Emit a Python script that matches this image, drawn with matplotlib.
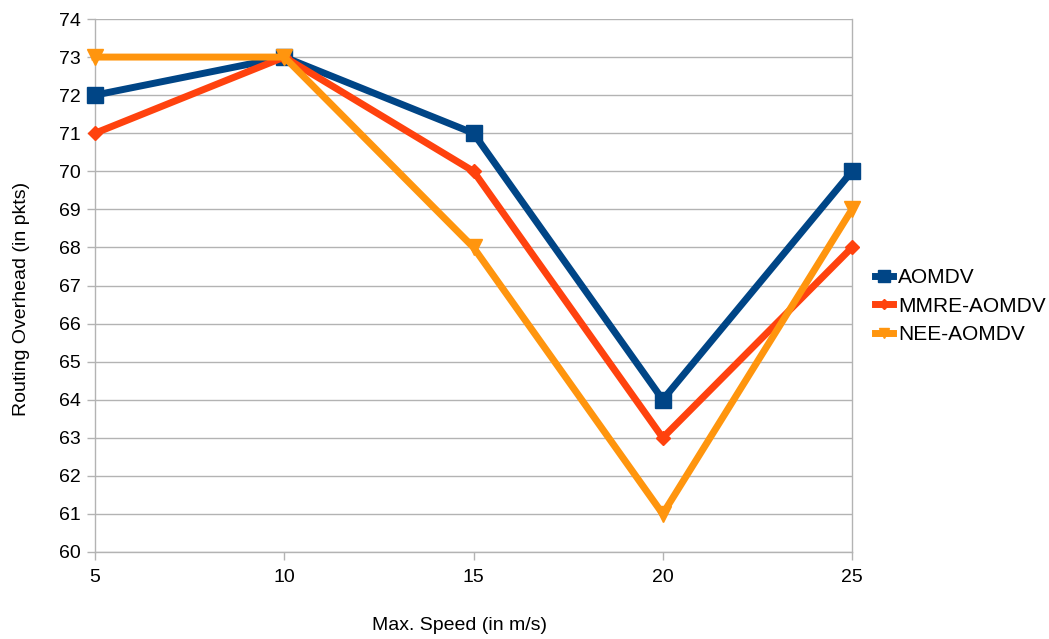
import matplotlib
matplotlib.use("Agg")
import matplotlib.pyplot as plt
from matplotlib.lines import Line2D

plt.rcParams['font.family'] = ['Liberation Sans', 'DejaVu Sans']

speeds = [5, 10, 15, 20, 25]
aomdv = [72, 73, 71, 64, 70]
mmre_aomdv = [71, 73, 70, 63, 68]
nee_aomdv = [73, 73, 68, 61, 69]
series_names = ["AOMDV", "MMRE-AOMDV", "NEE-AOMDV"]
y_ticks = list(range(60, 75))

colors = ["#004586", "#ff420e", "#ff950e"]
markers = ["s", "D", "v"]
msizes = [11.5, 7.5, 11]

fig = plt.figure(figsize=(10.49, 6.39), dpi=100)
ax = fig.add_axes([95 / 1049, 1 - 552 / 639, (852 - 95) / 1049, (552 - 19) / 639])

grid_c = "#b3b3b3"
for vals, name, c, m, ms in zip([aomdv, mmre_aomdv, nee_aomdv], series_names, colors, markers, msizes):
    ax.plot(speeds, vals, color=c, lw=5, marker=m, markersize=ms,
            markeredgecolor=c, markerfacecolor=c, label=name, clip_on=False, zorder=3)

ax.set_xlim(5, 25)
ax.set_ylim(60, 74)
ax.set_xticks(speeds)
ax.set_yticks(y_ticks)
ax.yaxis.grid(True, color=grid_c, lw=1)
ax.set_axisbelow(True)
for side in ["left", "bottom", "right", "top"]:
    ax.spines[side].set_color(grid_c)
    ax.spines[side].set_linewidth(1)
ax.spines["top"].set_visible(False)
ax.tick_params(axis="both", colors=grid_c, length=6, width=1, labelsize=14, labelcolor="black")
ax.tick_params(axis="y", pad=4)
ax.tick_params(axis="x", pad=6)

ax.set_xlabel("Max. Speed (in m/s)", fontsize=14)
ax.set_ylabel("Routing Overhead (in pkts)", fontsize=14)
ax.xaxis.set_label_coords(0.4815, -0.122)
ax.yaxis.set_label_coords(-0.086, 0.474)

handles = [Line2D([0], [0], color=c, lw=5, marker=m, markersize=ms * 0.7,
                  markerfacecolor=c, markeredgecolor=c)
           for c, m, ms in zip(colors, markers, msizes)]
fig.legend(handles, series_names, loc="center left", bbox_to_anchor=(875 / 1049, 1 - 306 / 639),
           frameon=False, fontsize=15, handlelength=0.87, handletextpad=0.25, labelspacing=0.45,
           borderpad=0, borderaxespad=0)

fig.savefig("out.png", dpi=100, facecolor="white")
